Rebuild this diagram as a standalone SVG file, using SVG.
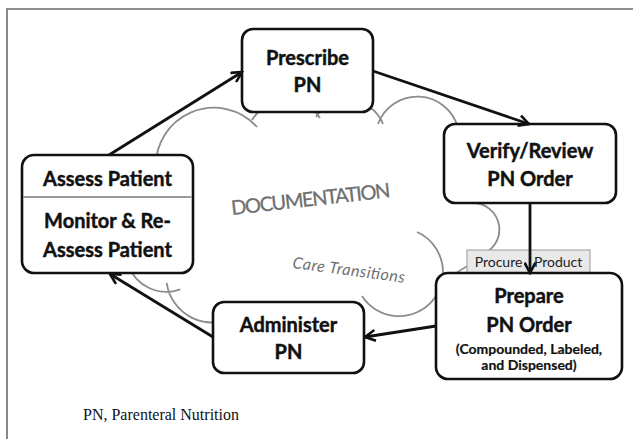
<svg xmlns="http://www.w3.org/2000/svg" width="633" height="439" viewBox="0 0 633 439">
<style>
.box{fill:#fff;stroke:#111;stroke-width:2.6}
.lbl{font-family:Lato,"Liberation Sans",sans-serif;font-weight:bold;font-size:20px;fill:#111;stroke:#111;stroke-width:0.45;text-anchor:middle}
.sub{font-size:14px;stroke-width:0.2}
.cloud{fill:none;stroke:#8c8c8c;stroke-width:1.8}
.gtxt{font-family:Lato,"Liberation Sans",sans-serif;fill:#6f6f6f}
.conn{fill:none;stroke:#111;stroke-width:2.8;marker-end:url(#ah)}
</style>
<defs>
<marker id="ah" viewBox="0 0 12 12" refX="10.5" refY="6" markerWidth="13" markerHeight="13" markerUnits="userSpaceOnUse" orient="auto">
<path d="M1,1 L10.5,6 L1,11" fill="none" stroke="#111" stroke-width="2.4" stroke-linejoin="miter"/>
</marker>
</defs>
<rect width="633" height="439" fill="#fff"/>
<path d="M7,439 V9 H633" fill="none" stroke="#6b6b6b" stroke-width="1.6"/>

<g id="cloud">
<path class="cloud" d="M156,170 A58,58 0 0 1 257,127 M252,120 A40,40 0 0 1 320,118 M316,117 A38,38 0 0 1 383,124 M378,124 A42,42 0 0 1 458,128 M472,203 A26.5,26.5 0 0 1 480,255 M476,262 Q466,266 455,274 M417,232 A44,44 0 1 1 362,296 M235.5,316.2 A46,46 0 0 1 166.7,282.8 M180.3,289.4 A40.7,40.7 0 0 1 128.2,265.1"/>
<text class="gtxt" x="232" y="215" font-size="20" stroke="#6f6f6f" stroke-width="0.3" textLength="160" transform="rotate(-6.4 232 215)">DOCUMENTATION</text>
<text class="gtxt" x="292" y="268" font-size="16" font-style="italic" textLength="113" transform="rotate(7.5 292 268)">Care Transitions</text>
</g>

<g id="procure">
<rect x="467" y="250" width="123" height="23" fill="#e9e9e9" stroke="#a8a8a8" stroke-width="1.2"/>
<text x="528.5" y="267" font-family="Lato,'Liberation Sans',sans-serif" font-size="14" fill="#222" text-anchor="middle" word-spacing="8">Procure Product</text>
</g>

<g id="prescribe">
<rect class="box" x="242" y="29" width="131" height="83" rx="11"/>
<text class="lbl" x="307.5" y="65">Prescribe</text>
<text class="lbl" x="307.5" y="92">PN</text>
</g>

<g id="verify">
<rect class="box" x="444" y="124" width="172" height="79" rx="11"/>
<text class="lbl" x="530" y="158">Verify/Review</text>
<text class="lbl" x="530" y="186">PN Order</text>
</g>

<g id="assess">
<rect class="box" x="22" y="155" width="171" height="118" rx="12"/>
<line x1="23" y1="197" x2="192" y2="197" stroke="#9a9a9a" stroke-width="2"/>
<text class="lbl" x="107.5" y="186">Assess Patient</text>
<text class="lbl" x="107.5" y="228">Monitor &amp; Re-</text>
<text class="lbl" x="107.5" y="257">Assess Patient</text>
</g>

<g id="administer">
<rect class="box" x="213" y="302" width="151" height="71" rx="11"/>
<text class="lbl" x="288.5" y="332" font-size="21">Administer</text>
<text class="lbl" x="288.5" y="359" font-size="21">PN</text>
</g>

<g id="prepare">
<rect class="box" x="436" y="273" width="186" height="106" rx="12"/>
<text class="lbl" x="529" y="303" font-size="22">Prepare</text>
<text class="lbl" x="529" y="332" font-size="22">PN Order</text>
<text class="lbl sub" x="529" y="354">(Compounded, Labeled,</text>
<text class="lbl sub" x="529" y="370">and Dispensed)</text>
</g>

<g id="connectors">
<line class="conn" x1="109" y1="155" x2="242" y2="72"/>
<line class="conn" x1="373" y1="71" x2="529" y2="124"/>
<line class="conn" x1="530" y1="203" x2="530" y2="273"/>
<line class="conn" x1="436" y1="326" x2="365" y2="337"/>
<line class="conn" x1="213" y1="337" x2="110" y2="274"/>
</g>

<text x="83" y="420" font-family="'Liberation Serif',serif" font-size="16" fill="#111">PN, Parenteral Nutrition</text>
</svg>
